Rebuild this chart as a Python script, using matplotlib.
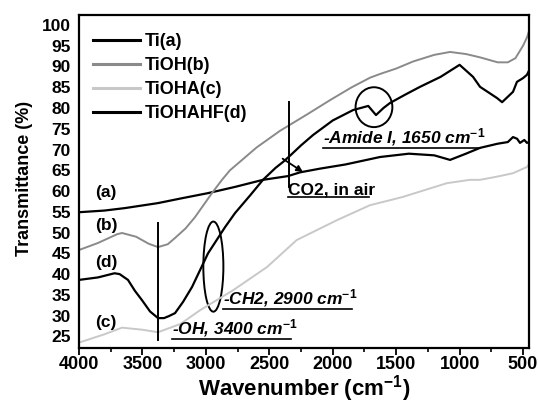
import numpy as np
import matplotlib.pyplot as plt
from matplotlib.patches import Ellipse
from matplotlib.lines import Line2D

plt.rcParams['font.family'] = ['Liberation Sans', 'DejaVu Sans']
plt.rcParams['font.weight'] = 'bold'
plt.rcParams['axes.labelweight'] = 'bold'
plt.rcParams['mathtext.fontset'] = 'custom'
plt.rcParams['mathtext.rm'] = 'Liberation Sans:bold'
plt.rcParams['mathtext.it'] = 'Liberation Sans:bold:italic'
plt.rcParams['mathtext.bf'] = 'Liberation Sans:bold'

# FTIR spectra, wavenumber (cm-1) vs transmittance (%)
wn_a = [4000, 3800, 3637, 3377, 3200, 2983, 2770, 2550, 2353, 2258, 2100, 1900,
        1627, 1400, 1200, 1075, 950, 839, 700, 620, 579, 547, 524, 490, 469, 453]
t_a = [54.9, 55.3, 55.9, 57.1, 58.2, 59.5, 61.0, 62.7, 63.6, 64.5, 65.4, 66.4,
       68.2, 69.0, 68.6, 67.5, 69.0, 70.4, 71.4, 71.8, 73.0, 72.6, 71.6, 72.3, 71.6, 71.8]

wn_b = [4000, 3850, 3700, 3661, 3550, 3450, 3377, 3300, 3243, 3160, 3086, 2952,
        2873, 2810, 2600, 2416, 2200, 2021, 1850, 1706, 1627, 1500, 1367, 1200,
        1075, 950, 839, 700, 620, 560, 500, 469, 453]
t_b = [45.8, 47.5, 49.6, 49.9, 49.0, 47.3, 46.5, 47.2, 48.7, 51.0, 53.7, 59.5,
       62.7, 65.0, 70.5, 74.5, 78.5, 81.9, 85.0, 87.3, 88.2, 89.5, 91.2, 92.8,
       93.5, 93.0, 92.2, 91.0, 91.0, 92.0, 95.0, 97.0, 98.5]

wn_c = [4000, 3800, 3661, 3500, 3377, 3200, 3046, 2786, 2518, 2284, 1966, 1706,
        1548, 1446, 1100, 918, 839, 700, 579, 469, 453]
t_c = [23.5, 25.5, 27.1, 26.6, 26.0, 28.0, 31.3, 36.1, 41.7, 48.2, 53.0, 56.6,
       57.8, 58.6, 61.9, 62.7, 62.7, 63.5, 64.3, 65.8, 66.5]

wn_d = [4000, 3850, 3720, 3680, 3614, 3560, 3503, 3440, 3377, 3330, 3290, 3243,
        3180, 3109, 2983, 2849, 2770, 2650, 2550, 2450, 2392, 2337, 2250, 2155,
        2000, 1840, 1720, 1659, 1600, 1549, 1430, 1312, 1150, 1000, 894, 839,
        705, 665, 579, 548, 500, 469, 453]
t_d = [38.6, 39.2, 40.2, 40.0, 38.6, 36.0, 33.7, 31.0, 29.4, 29.4, 29.9, 30.6,
       33.3, 36.9, 45.0, 51.3, 54.7, 59.0, 62.7, 65.6, 67.0, 68.5, 71.0, 73.5,
       77.0, 79.5, 80.5, 78.3, 80.0, 81.2, 83.2, 85.1, 87.5, 90.4, 87.5, 85.1,
       82.4, 81.4, 83.9, 86.3, 87.2, 88.0, 89.0]

series = [
    ("Ti(a)", wn_a, t_a, "black", 1.6),
    ("TiOH(b)", wn_b, t_b, "#8a8a8a", 1.4),
    ("TiOHA(c)", wn_c, t_c, "#c8c8c8", 1.4),
    ("TiOHAHF(d)", wn_d, t_d, "black", 1.6),
]

fig = plt.figure(figsize=(5.38, 4.05), dpi=100)
ax = fig.add_axes([79 / 538, 1 - 348 / 405, 450 / 538, 333 / 405])

for name, x, y, col, lw in series:
    ax.plot(x, y, color=col, lw=lw, label=name, solid_joinstyle='round')

ax.set_xlim(4000, 453)
ax.set_ylim(22.2, 102.4)
ax.set_xticks(np.arange(4000, 499, -500))
ax.set_xticks(np.arange(3750, 499, -500), minor=True)
ax.set_yticks(np.arange(25, 101, 5))
ax.tick_params(axis='x', which='major', direction='out', length=5, width=1.3,
               labelsize=13, pad=1)
ax.tick_params(axis='x', which='minor', direction='out', length=3, width=1.2)
ax.tick_params(axis='y', length=0, labelsize=12.5, pad=6)
for lab in ax.get_xticklabels() + ax.get_yticklabels():
    lab.set_fontweight('bold')
for s in ax.spines.values():
    s.set_linewidth(1.6)

ax.set_xlabel("Wavenumber (cm$^{\\mathrm{-1}}$)", fontsize=16, labelpad=0)
ax.set_ylabel("Transmittance (%)", fontsize=13)
ax.yaxis.set_label_coords(-0.103, 0.51)

leg = ax.legend(loc='upper left', bbox_to_anchor=(0.031, 0.945), frameon=False,
                fontsize=13, handlelength=2.6, handletextpad=0.25,
                labelspacing=0.38, borderaxespad=0, borderpad=0)
for h in leg.legend_handles:
    h.set_linewidth(2.2)

# curve tags
for tag, yv in [("(a)", 58.6), ("(b)", 50.6), ("(d)", 41.8), ("(c)", 27.3)]:
    ax.text(3869, yv, tag, fontsize=12.5, ha='left', va='baseline')

# band markers
ax.plot([3377, 3377], [24.1, 52.3], color='black', lw=1.4)
ax.plot([2345, 2345], [61.0, 81.4], color='black', lw=1.4)
ax.add_patch(Ellipse((2941, 41.8), 158, 21.7, fill=False, ec='black', lw=1.4))
ax.add_patch(Ellipse((1675, 80.2), 290, 9.6, fill=False, ec='black', lw=1.4))
ax.annotate("", xy=(2235, 64.6), xytext=(2395, 67.8),
            arrowprops=dict(arrowstyle='-|>', color='black', lw=1.3,
                            mutation_scale=9, shrinkA=0, shrinkB=0))

notes = [
    (2074, 71.5, "-Amide I, 1650 cm$^{-1}$", 'italic'),
    (2350, 59.2, "CO2, in air", 'normal'),
    (2863, 32.8, "-CH2, 2900 cm$^{-1}$", 'italic'),
    (3270, 25.5, "-OH, 3400 cm$^{-1}$", 'italic'),
]
txts = [ax.text(x, y, s, fontsize=12.5, style=st, ha='left', va='baseline')
        for x, y, s, st in notes]

# underline the notes
fig.canvas.draw()
r = fig.canvas.get_renderer()
W, H = fig.bbox.width, fig.bbox.height
for t in txts:
    bb = t.get_window_extent(r)
    yl = bb.y0 + 0.5
    fig.add_artist(Line2D([bb.x0 / W, (bb.x1 - 6) / W], [yl / H, yl / H],
                          transform=fig.transFigure, color='black', lw=1.2))

fig.savefig("out.png", dpi=100)
